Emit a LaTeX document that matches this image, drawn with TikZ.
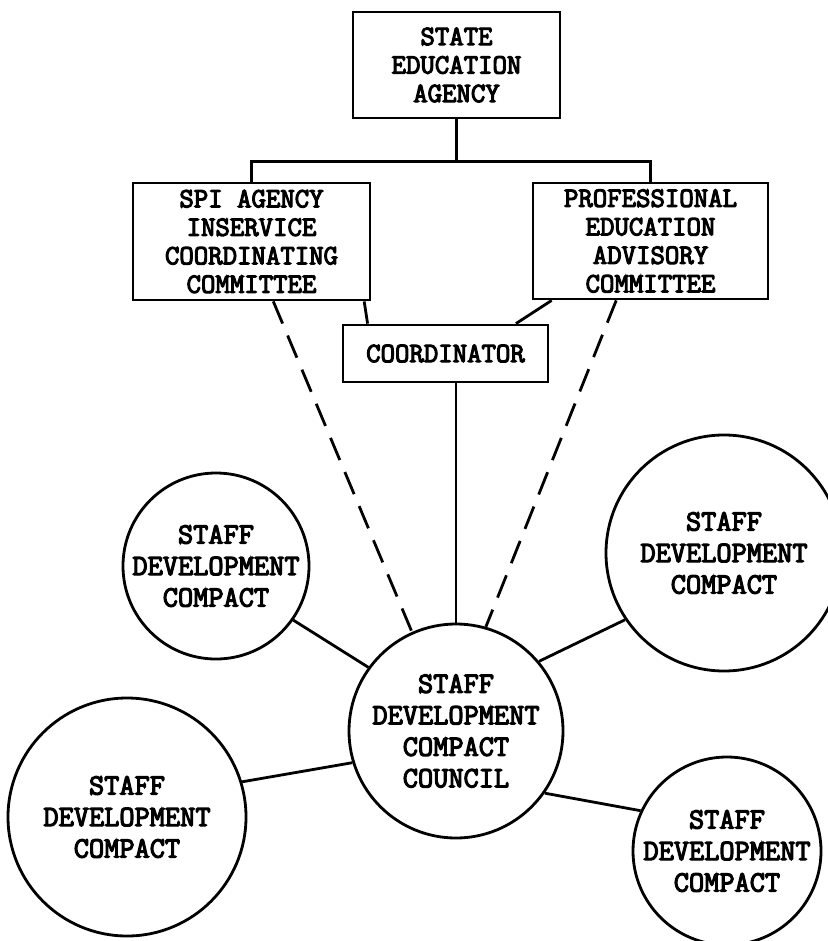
\documentclass[tikz,border=0pt]{standalone}
\usepackage{fontspec}
\setmonofont[FakeBold=4]{Latin Modern Mono}
\usepackage{tikz}

\begin{document}
\begin{tikzpicture}[x=1pt, y=1pt, line width=2.8pt,
  every node/.style = {draw, align=center, inner sep=0pt,
    font=\ttfamily\fontsize{28}{28.5}\selectfont},
  agencybox/.style = {rectangle},
  compact/.style = {circle,
    font=\ttfamily\fontsize{29.5}{31.5}\selectfont},
  advisory/.style = {dash pattern=on 24pt off 13pt}]
  \useasboundingbox (0,0) rectangle (827,-941);

  % agency and committees
  \node[agencybox, minimum width=207pt, minimum height=106pt] (state)
    at (456.5,-65) {STATE\\EDUCATION\\AGENCY};
  \node[agencybox, minimum width=237pt, minimum height=117pt] (spi)
    at (251.5,-241.5) {SPI AGENCY\\INSERVICE\\COORDINATING\\COMMITTEE};
  \node[agencybox, minimum width=235pt, minimum height=116pt] (prof)
    at (650.5,-241) {PROFESSIONAL\\EDUCATION\\ADVISORY\\COMMITTEE};
  \node[agencybox, minimum width=205pt, minimum height=57pt] (coord)
    at (445.5,-353.5) {COORDINATOR};

  % compacts
  \node[compact, minimum size=214pt] (council) at (456,-731)
    {STAFF\\DEVELOPMENT\\COMPACT\\COUNCIL};
  \node[compact, minimum size=184pt] (tl) at (216,-566)
    {STAFF\\DEVELOPMENT\\COMPACT};
  \node[compact, minimum size=236pt] (tr) at (724,-553)
    {STAFF\\DEVELOPMENT\\COMPACT};
  \node[compact, minimum size=238pt] (bl) at (127,-817)
    {STAFF\\DEVELOPMENT\\COMPACT};
  \node[compact, minimum size=188pt] (br) at (727,-851)
    {STAFF\\DEVELOPMENT\\COMPACT};

  \draw (state.south) -- ++(0,-42) -| (spi.north);
  \draw (state.south) -- ++(0,-42) -| (prof.north);
  \draw (spi.-28) -- (coord.159);
  \draw (prof.-149) -- (coord.23);
  \draw (council.north |- coord.south) -- (council.north);
  \draw[advisory] (spi.-70) -- (council.114);
  \draw[advisory] (prof.-120) -- (council.74);

  \draw (tl.-35) -- (council.144);
  \draw (tr.-146) -- (council.40);
  \draw (bl.17) -- (council.-163);
  \draw (br.155) -- (council.-35);
\end{tikzpicture}
\end{document}
